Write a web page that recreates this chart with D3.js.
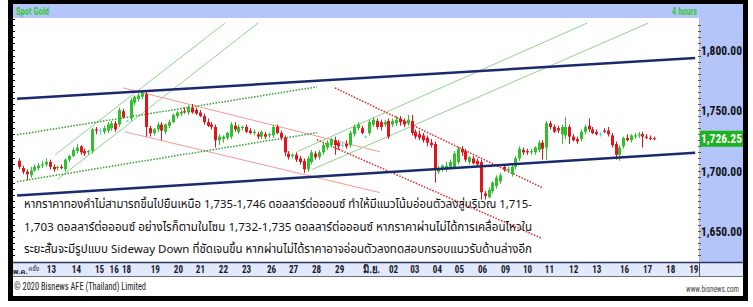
<!DOCTYPE html>
<html><head><meta charset="utf-8">
<script src="https://cdn.jsdelivr.net/npm/d3@7"></script>
<style>html,body{margin:0;padding:0;background:#fff;}svg{display:block;}</style>
</head><body>
<svg id="c" width="753" height="307"></svg>
<script>
// ---- data ----
const candleOpen  = [1708,1702,1699,1696,1700,1702,1704,1705,1707,1703,1702,1703,1701,1709,1712,1716,1720,1716,1715,1716,1734,1733,1732,1733,1735,1739,1738,1749,1741,1743,1756,1759,1761,1763,1735,1731,1734,1738,1732,1737,1740,1745,1747,1749,1748,1752,1750,1748,1745,1740,1738,1736,1725,1726,1727,1728,1737,1732,1735,1736,1733,1731,1730,1728,1730,1729,1729,1736,1731,1727,1714,1712,1713,1710,1708,1701,1707,1714,1711,1715,1719,1721,1725,1723,1721,1722,1721,1730,1735,1735,1728,1731,1738,1741,1740,1738,1741,1738,1739,1743,1741,1739,1741,1732,1730,1729,1727,1723,1722,1699,1701,1701,1703,1703,1707,1718,1716,1707,1710,1708,1707,1681,1678,1683,1687,1691,1703,1700,1697,1703,1710,1717,1716,1715,1715,1717,1723,1719,1739,1736,1735,1730,1729,1736,1728,1726,1726,1732,1737,1734,1732,1730,1733,1733,1729,1722,1713,1720,1727,1725,1728,1729,1730,1728,1727,1726.5];
const candleHigh  = [1710,1704,1701,1703,1705,1706,1708,1710,1709,1705,1704,1705,1710,1713,1719,1722,1721,1718,1717,1735,1736,1735,1737,1740,1741,1741,1752,1751,1742,1760,1762,1764,1766,1766,1737,1735,1740,1740,1739,1742,1747,1749,1750,1752,1754,1755,1752,1750,1747,1743,1740,1738,1730,1729,1732,1740,1740,1738,1737,1738,1735,1734,1732,1733,1732,1731,1738,1738,1733,1729,1716,1714,1715,1712,1710,1712,1717,1716,1717,1723,1725,1727,1728,1725,1724,1725,1733,1738,1740,1737,1729,1742,1744,1743,1742,1742,1743,1743,1745,1745,1743,1746,1746,1734,1733,1731,1729,1726,1724,1704,1705,1707,1709,1716,1720,1720,1718,1712,1712,1710,1709,1683,1686,1691,1696,1698,1705,1703,1705,1712,1720,1719,1718,1718,1720,1725,1725,1741,1741,1738,1737,1738,1744,1738,1730,1728,1734,1738,1743,1736,1734,1732,1735,1736,1731,1724,1721,1728,1730,1730,1731,1732,1732,1730,1729,1728];
const candleLow   = [1701,1697,1692,1694,1699,1700,1702,1703,1701,1699,1700,1701,1699,1707,1711,1714,1713,1712,1713,1714,1730,1729,1730,1731,1733,1732,1736,1743,1740,1741,1754,1757,1759,1728,1728,1729,1732,1725,1730,1735,1739,1743,1745,1747,1746,1747,1746,1744,1738,1736,1734,1719,1721,1723,1725,1726,1732,1730,1733,1731,1730,1729,1726,1726,1726,1727,1727,1730,1725,1712,1709,1710,1707,1705,1698,1699,1705,1709,1709,1713,1717,1719,1713,1717,1719,1718,1719,1728,1733,1730,1727,1729,1736,1734,1733,1736,1726,1736,1737,1737,1736,1737,1729,1726,1725,1723,1720,1719,1690,1697,1699,1699,1701,1701,1705,1712,1707,1705,1705,1703,1676,1676,1677,1681,1685,1689,1699,1698,1695,1701,1708,1713,1713,1713,1713,1715,1709,1709,1734,1731,1731,1722,1726,1722,1724,1722,1724,1730,1732,1730,1729,1728,1731,1728,1719,1709,1708,1718,1724,1723,1726,1727,1719,1726,1725,1725];
const candleClose = [1703,1699,1697,1700,1703,1704,1705,1707,1703,1701,1703,1702,1709,1712,1717,1719,1715,1714,1716,1734,1733,1733,1735,1738,1739,1734,1750,1744,1741,1758,1761,1762,1764,1736,1731,1734,1738,1733,1738,1740,1746,1748,1748.5,1748,1752,1748,1747,1745,1740,1737,1736,1725,1728,1728,1731,1738,1734,1736,1736,1732,1731,1732,1728,1732,1728,1730,1736,1731,1727,1715,1711,1713,1709,1707,1701,1710,1715,1711,1715,1721,1723,1726,1721,1720,1721,1720,1731,1736,1738,1731,1728,1740,1742,1736,1736,1740,1728,1741,1742,1740,1738,1742,1731,1728,1727,1725,1723,1721,1702,1702,1704,1704,1707,1714,1718,1715,1709,1711,1706,1705,1682,1679,1684,1690,1694,1696,1701,1701,1703,1710,1718,1715,1715,1716,1719,1723,1718,1739,1736,1732,1733,1736,1736,1728,1725,1724,1732,1736,1734,1731,1730,1730,1732,1730,1721,1713,1719,1727,1725,1729,1729,1730,1728,1727,1726,1726.25];

const dayLabels = ["13","14","15","16","18","19","20","21","22","23","26","27","28","29","มิ.ย.","02","03","04","05","06","09","10","11","12","13","16","17","18","19"];
const dayIndex  = [8.3,14.8,20.8,24.6,27.8,35.3,41.3,47.0,53.0,59.0,65.5,71.2,77.2,83.2,91.5,97.2,102.7,108.6,114.3,120.3,126.3,132.0,137.7,144.0,150.0,157.2,163.2,169.2,175.2];
const firstMonthLabel = "พ.ค.";
const firstMonthSuffix = "ครั้ง";
const priceTicks = [1800,1750,1700,1650];
const lastPrice = 1726.25;

// annotation trend lines: [startIndex, startPrice, endIndex, endPrice]
const navyLines = [[-0.5,1759.2,175.7,1793.0],[-0.5,1679.3,175.7,1714.7]];
const greenSolid = [[9.4,1713.0,53.5,1821.8],[9.9,1692.4,62.1,1821.8],[72.2,1715.5,147.6,1821.8],[76.1,1700.7,163.5,1821.8]];
const greenDotted = [[-0.5,1729.5,77.4,1769.1],[-0.5,1690.8,77.4,1731.2]];
const redSolid = [[27.0,1768.3,93.8,1715.5],[27.5,1732.0,93.8,1681.7]];
const redDotted = [[82.1,1768.3,135.9,1685.9],[77.4,1725.4,135.9,1643.8]];

const noteLines = [
 "หากราคาทองคำไม่สามารถขึ้นไปยืนเหนือ 1,735-1,746 ดอลลาร์ต่อออนซ์ ทำให้มีแนวโน้มอ่อนตัวลงสู่บริเวณ 1,715-",
 "1,703 ดอลลาร์ต่อออนซ์ อย่างไรก็ตามในโซน 1,732-1,735 ดอลลาร์ต่อออนซ์ หากราคาผ่านไม่ได้การเคลื่อนไหวใน",
 "ระยะสั้นจะมีรูปแบบ Sideway Down ที่ชัดเจนขึ้น หากผ่านไม่ได้ราคาอาจอ่อนตัวลงทดสอบกรอบแนวรับด้านล่างอีก"
];

// ---- drawing ----
const svg = d3.select("#c");
const condensed = "'Liberation Sans Narrow','Arial Narrow','Roboto Condensed','Liberation Sans',Arial,sans-serif";
const thaiFont = "Tahoma,'Noto Sans Thai','Noto Sans','DejaVu Sans',sans-serif";
const PL = 13, PR = 699, PT = 18, PB = 262;

svg.append("rect").attr("x",0).attr("y",0).attr("width",753).attr("height",307).attr("fill","#fff");
svg.append("rect").attr("x",8).attr("y",0).attr("width",740).attr("height",301).attr("fill","#000");
svg.append("rect").attr("x",PL).attr("y",4).attr("width",730).attr("height",292).attr("fill","#fff");
// title bar
svg.append("rect").attr("x",PL).attr("y",4).attr("width",730).attr("height",14).attr("fill","#b3c5f9");
svg.append("text").attr("x",16).attr("y",15).text("Spot Gold").attr("textLength",33).attr("lengthAdjust","spacingAndGlyphs")
  .attr("font-family",condensed).attr("font-size",11).attr("fill","#3cc83c").attr("font-weight","bold");
svg.append("text").attr("x",672).attr("y",15).text("4 hours").attr("textLength",25).attr("lengthAdjust","spacingAndGlyphs")
  .attr("font-family",condensed).attr("font-size",11).attr("fill","#3cc83c").attr("font-weight","bold");
// right axis panel
svg.append("rect").attr("x",PR).attr("y",PT).attr("width",743-PR).attr("height",PB-PT).attr("fill","#b3c5f9");

const x = d3.scaleLinear().domain([0,165]).range([19,654]);
const y = d3.scaleLinear().domain([1650,1800]).range([231,49.5]);

const plot = svg.append("g");
plot.append("clipPath").attr("id","pc").append("rect").attr("x",PL).attr("y",PT).attr("width",PR-PL).attr("height",PB-PT);
const g = plot.append("g").attr("clip-path","url(#pc)");

function drawLines(arr, color, width, dash){
  g.selectAll(null).data(arr).enter().append("line")
   .attr("x1",d=>x(d[0])).attr("y1",d=>y(d[1])).attr("x2",d=>x(d[2])).attr("y2",d=>y(d[3]))
   .attr("stroke",color).attr("stroke-width",width).attr("stroke-dasharray",dash||null);
}
drawLines(greenSolid,"#8fd38f",1);
drawLines(redSolid,"#f29a9a",1);
drawLines(greenDotted,"#2f9f2f",1.5,"1.5,1.5");
drawLines(redDotted,"#e32222",1.5,"1.5,1.5");

// candles
const candles = candleOpen.map((o,i)=>({i,o,h:candleHigh[i],l:candleLow[i],c:candleClose[i]}));
const col = d => d.c>d.o ? "#2fbf2f" : (d.c<d.o ? "#e3141c" : "#5fd8e8");
g.selectAll(".wick").data(candles).enter().append("line")
  .attr("x1",d=>Math.round(x(d.i))+0.5).attr("x2",d=>Math.round(x(d.i))+0.5)
  .attr("y1",d=>y(d.h)).attr("y2",d=>y(d.l)).attr("stroke",col).attr("stroke-width",1);
g.selectAll(".body").data(candles).enter().append("rect")
  .attr("x",d=>Math.round(x(d.i))-1).attr("width",3)
  .attr("y",d=>y(Math.max(d.o,d.c))).attr("height",d=>Math.max(1,Math.abs(y(d.o)-y(d.c))))
  .attr("fill",col);

drawLines(navyLines,"#1b2a6e",2.5);

// left edge ticks
const leftTicks = d3.range(1625,1830,5).filter(d=>y(d)>PT+1&&y(d)<PB-1);
svg.append("g").selectAll("line").data(leftTicks).enter().append("line")
  .attr("x1",PL).attr("x2",PL+2).attr("y1",d=>Math.round(y(d))+0.5).attr("y2",d=>Math.round(y(d))+0.5)
  .attr("stroke","#000").attr("stroke-width",1);

// right axis
svg.append("line").attr("x1",PR+0.5).attr("x2",PR+0.5).attr("y1",PT).attr("y2",PB)
  .attr("stroke","#c9b27a").attr("stroke-width",1).attr("stroke-dasharray","1,1");
const rTicks = d3.range(1625,1830,5).filter(d=>y(d)>PT+2&&y(d)<PB-2);
svg.append("g").selectAll("line").data(rTicks).enter().append("line")
  .attr("x1",PR-1).attr("x2",PR+2).attr("y1",d=>Math.round(y(d))+0.5).attr("y2",d=>Math.round(y(d))+0.5)
  .attr("stroke","#555").attr("stroke-width",1);
const yAxis = svg.append("g").attr("transform",`translate(742,0)`)
  .call(d3.axisRight(y).tickValues(priceTicks).tickFormat(d3.format(",.2f")).tickSize(0).tickPadding(0));
yAxis.select(".domain").remove();
yAxis.selectAll("text").attr("x",-41).attr("text-anchor","start").attr("textLength",41).attr("lengthAdjust","spacingAndGlyphs")
  .attr("font-family",condensed).attr("font-size",13)
  .attr("font-weight","bold").attr("fill","#111").attr("dy","0.36em");
svg.append("rect").attr("x",PR+1).attr("y",y(lastPrice)-8).attr("width",43).attr("height",16).attr("fill","#1db31d");
svg.append("text").attr("x",701).attr("y",y(lastPrice)).attr("dy","0.36em")
  .text(d3.format(",.2f")(lastPrice)).attr("textLength",41).attr("lengthAdjust","spacingAndGlyphs")
  .attr("font-family",condensed).attr("font-size",13)
  .attr("font-weight","bold").attr("fill","#fff");

// x axis bar
svg.append("rect").attr("x",PL).attr("y",PB).attr("width",730).attr("height",14).attr("fill","#e2e9fc");
svg.append("line").attr("x1",PL).attr("x2",743).attr("y1",PB+0.5).attr("y2",PB+0.5).attr("stroke","#2b3563").attr("stroke-width",1.5);
svg.append("line").attr("x1",PL).attr("x2",743).attr("y1",276.5).attr("y2",276.5).attr("stroke","#6a6f80").attr("stroke-width",1);
svg.append("line").attr("x1",PR+0.5).attr("x2",PR+0.5).attr("y1",PB).attr("y2",276).attr("stroke","#555").attr("stroke-width",1);
const xAxis = svg.append("g").attr("transform",`translate(0,${PB})`)
  .call(d3.axisBottom(x).tickValues(dayIndex).tickFormat((d,i)=>dayLabels[i]).tickSize(0).tickPadding(0));
xAxis.select(".domain").remove();
xAxis.selectAll("text").attr("y",11).attr("dy",0).attr("font-family",condensed).attr("font-size",11)
  .attr("font-weight","bold").attr("fill","#1a1a2a")
  .each(function(d,i){ const t=dayLabels[i]; d3.select(this).attr("textLength", t.length>2?17:(t.length*4.6)).attr("lengthAdjust","spacingAndGlyphs"); });
const monthText = svg.append("text").attr("x",13).attr("y",274).attr("font-family",thaiFont).attr("fill","#1a1a2a");
monthText.append("tspan").text(firstMonthLabel).attr("font-size",7.5).attr("font-weight","bold");
monthText.append("tspan").text(firstMonthSuffix).attr("font-size",6.5).attr("dx",1).attr("dy",-3);

// footer
svg.append("text").attr("x",14).attr("y",290).text("© 2020 Bisnews AFE (Thailand) Limited")
  .attr("textLength",132).attr("lengthAdjust","spacingAndGlyphs")
  .attr("font-family",condensed).attr("font-size",10.5).attr("fill","#222");
svg.append("text").attr("x",686).attr("y",292).text("www.bisnews.com")
  .attr("textLength",53).attr("lengthAdjust","spacingAndGlyphs")
  .attr("font-family",condensed).attr("font-size",9).attr("fill","#444");

// note text
svg.append("g").selectAll("text").data(noteLines).enter().append("text")
  .attr("x",24).attr("y",(d,i)=>208+i*22.5).text(d=>d)
  .attr("textLength",508).attr("lengthAdjust","spacingAndGlyphs")
  .attr("font-family",thaiFont).attr("font-size",11.5).attr("fill","#111");
</script>
</body></html>
